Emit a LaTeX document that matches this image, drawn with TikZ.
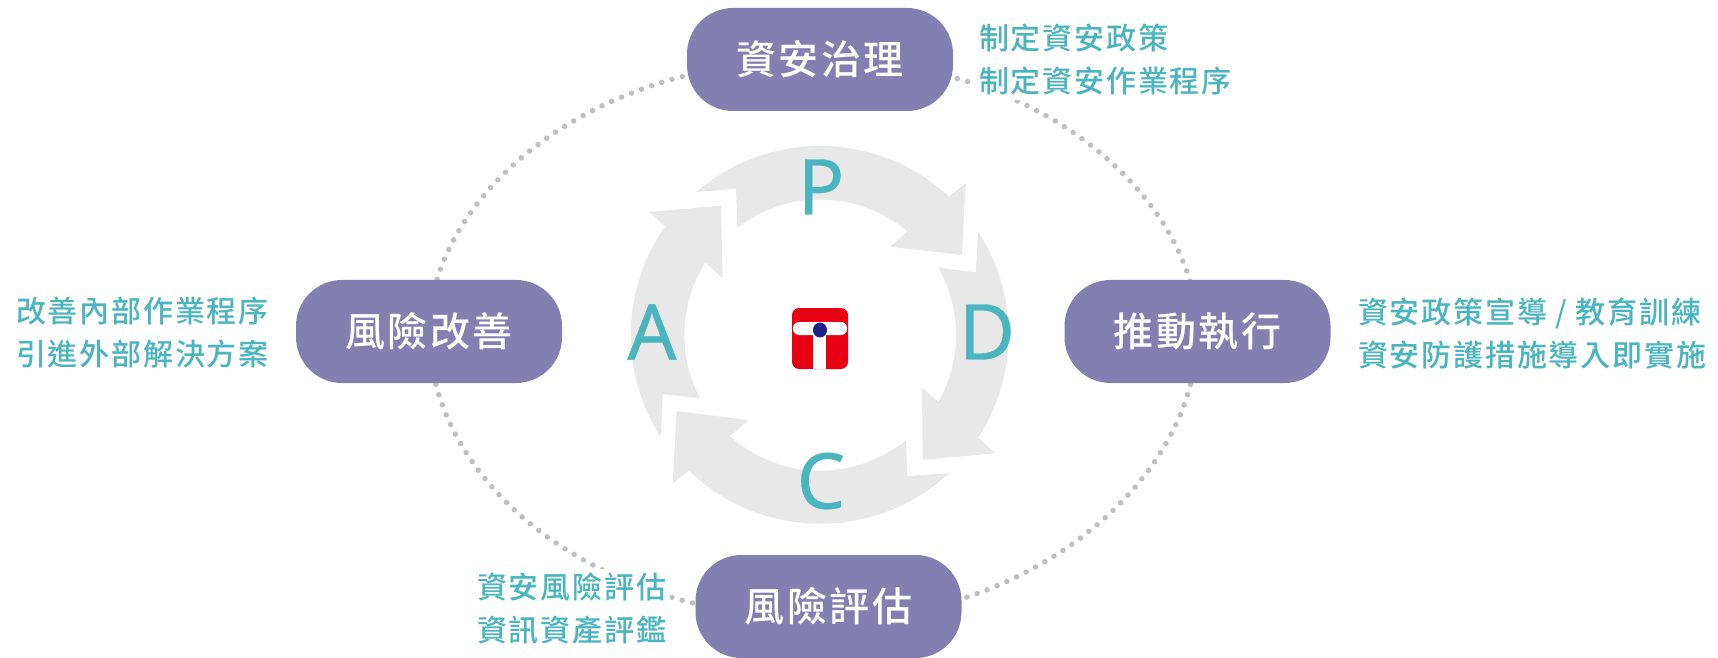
\documentclass[tikz,border=0pt]{standalone}
\usepackage{fontspec}
\usetikzlibrary{backgrounds}
\newfontfamily\boxfont[LetterSpace=6]{Noto Sans CJK TC Medium}
\newfontfamily\notefont[LetterSpace=6]{Noto Sans CJK TC Medium}
\newfontfamily\letterfont[FakeBold=0.4]{Noto Sans}
\definecolor{boxpurple}{HTML}{8380B1}
\definecolor{noteteal}{HTML}{4AB5BE}
\definecolor{ringgray}{HTML}{E8E8E8}
\definecolor{dotgray}{HTML}{BFBFC1}
\definecolor{logored}{HTML}{E60012}
\definecolor{logoblue}{HTML}{1D2088}
\begin{document}
\begin{tikzpicture}[x=1pt,y=1pt,
    stage/.style={fill=boxpurple,text=white,minimum width=266pt,minimum height=103pt,rounded corners=46pt,inner sep=0pt,font=\boxfont\fontsize{40}{46}\selectfont},
    note/.style={fill=white,text=noteteal,align=left,inner sep=4pt,font=\notefont\fontsize{30}{43}\selectfont},
    pdca/.style={text=noteteal,inner sep=0pt,font=\letterfont\fontsize{77}{90}\selectfont},
    dotline/.style={draw=dotgray,line width=5.5pt,line cap=round,dash pattern=on 0pt off 10.7pt},
    ringarrow/.style={fill=ringgray}]

  \useasboundingbox (0, 0) rectangle (1718, 657);

  \begin{scope}[shift={(820, 322)}]
    \fill[ringarrow] (-123.3, 143) -- (-84, 146.3) -- (-82.7, 107.3) arc[start angle=127.6, end angle=49.8, radius=135.5]
      -- (70, 88.3) -- (141.7, 80) -- (145.7, 151.7) -- (129, 138.3) arc[start angle=47, end angle=130.8, radius=189] -- cycle;
    \fill[ringarrow] (158.3, 103.3) -- (155.7, 62.7) -- (118.3, 67.3) arc[start angle=29.6, end angle=-29.5, radius=136]
      -- (102, -52.7) -- (102.7, -125) -- (175, -118.3) -- (158.3, -102.3) arc[start angle=-32.9, end angle=33.1, radius=189] -- cycle;
    \fill[ringarrow] (128.3, -138.3) -- (87.3, -141) -- (86, -105) arc[start angle=-50.7, end angle=-131.7, radius=135.5]
      -- (-71.7, -85) -- (-143.3, -76) -- (-147.3, -148.3) -- (-131, -135.7) arc[start angle=-134, end angle=-47.2, radius=189] -- cycle;
    \fill[ringarrow] (-159.3, -101) -- (-157.3, -59.3) -- (-120, -63.3) arc[start angle=207.8, end angle=147.7, radius=135.5]
      -- (-97.3, 56.7) -- (-99, 129.3) -- (-170.7, 123) -- (-155, 108.3) arc[start angle=145, end angle=212.4, radius=189] -- cycle;
  \end{scope}

  \node[pdca] (plan) at (821, 470) {P};
  \node[pdca] (do) at (987, 325) {D};
  \node[pdca] (check) at (821, 176) {C};
  \node[pdca] (act) at (652, 325) {A};

  \fill[logored, rounded corners=7pt] (792, 288) rectangle (848, 349);
  \fill[white, rounded corners=6pt] (793, 322) rectangle (847, 335);
  \fill[white] (813, 288) rectangle (826, 330);
  \fill[logoblue] (820, 327) ellipse (7 and 7.5);

  \node[stage] (gov) at (820, 597.5) {資安治理};
  \node[stage] (exec) at (1197.5, 325.5) {推動執行};
  \node[stage] (assess) at (828.5, 50.5) {風險評估};
  \node[stage] (improve) at (429, 325.5) {風險改善};

  \node[note, anchor=west] (govnote) at (975, 597) {制定資安政策\\制定資安作業程序};
  \node[note, anchor=west] (execnote) at (1354, 324) {資安政策宣導 / 教育訓練\\資安防護措施導入即實施};
  \node[note, anchor=west] (assessnote) at (473, 48) {資安風險評估\\資訊資產評鑑};
  \node[note, anchor=west] (improvenote) at (12, 324) {改善內部作業程序\\引進外部解決方案};

  \begin{scope}[on background layer]
    \draw[dotline] (gov.center) .. controls +(230, 0) and +(0, 125) .. (exec.center);
    \draw[dotline] (exec.center) .. controls +(0, -148) and +(204, 0) .. ([yshift=-13pt]assess.center);
    \draw[dotline] (improve.center) .. controls +(0, -148) and +(-238, 0) .. ([yshift=-13pt]assess.center);
    \draw[dotline] (gov.center) .. controls +(-245, 0) and +(0, 125) .. (improve.center);
  \end{scope}

\end{tikzpicture}
\end{document}
